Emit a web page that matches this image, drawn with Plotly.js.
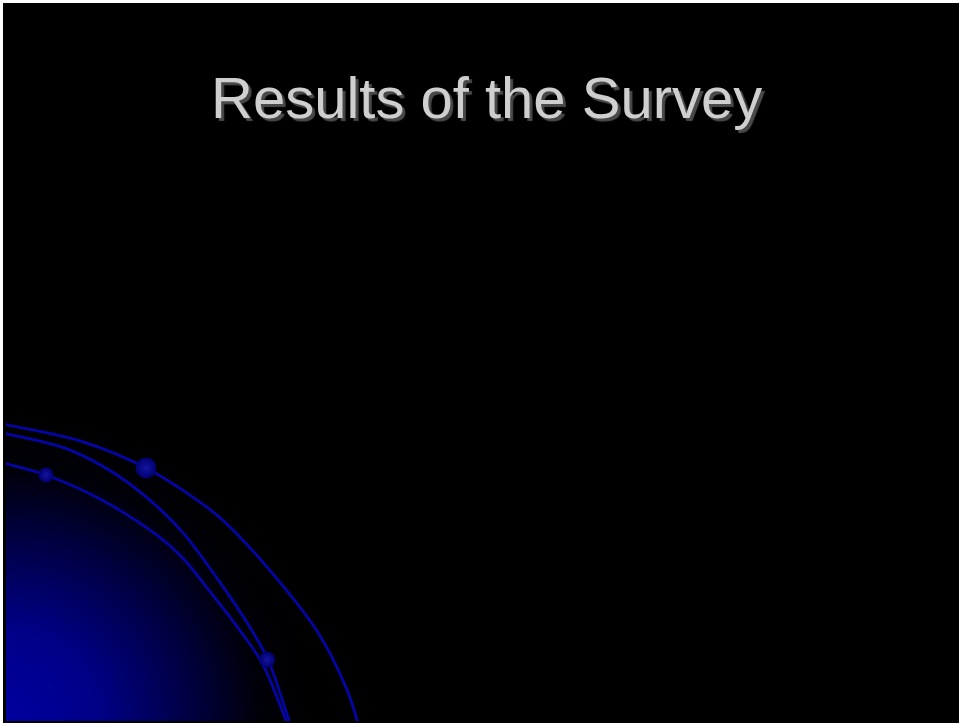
<!DOCTYPE html>
<html>
<head>
<meta charset="utf-8">
<script src="https://cdn.plot.ly/plotly-3.0.1.min.js"></script>
<style>
  html, body { margin: 0; padding: 0; background: #ffffff; width: 959px; height: 723px; overflow: hidden; }
  #chart { position: absolute; left: 3px; top: 3px; width: 958px; height: 722px; }
</style>
</head>
<body>
<div id="chart"></div>
<script>
// Slide content (this slide has a title only, no plotted data)
const titleText = "Results of the Survey";

// Decorative arcs (page pixel coordinates)
const arcAx = [-5, 7, 83, 146, 200, 225, 280, 320, 347, 358, 362];
const arcAy = [420, 423, 440, 466, 500, 520, 580, 633, 687, 720, 735];
const arcBx = [-5, 7, 67, 117, 160, 185, 220, 247, 268, 290, 296];
const arcBy = [429, 432, 447, 473, 507, 533, 580, 620, 657, 720, 735];
const arcCx = [-5, 7, 46, 100, 157, 182, 213, 240, 262, 287, 293];
const arcCy = [459, 462, 473, 497, 533, 555, 593, 628, 660, 720, 735];

// Decorative beads on the arcs
const beadX = [146, 46, 267];
const beadY = [466, 473, 657];
const beadSize = [21, 15, 16];

// Glow circle around bottom-left corner
const glowCx = 6, glowCy = 720, glowR = 310;
const glowX = [], glowY = [];
for (let i = 0; i <= 120; i++) {
  const a = 2 * Math.PI * i / 120;
  glowX.push(glowCx + glowR * Math.cos(a));
  glowY.push(glowCy + glowR * Math.sin(a));
}

const arcStyle = { color: 'rgb(5,5,165)', width: 2.8, shape: 'spline', smoothing: 1 };

const traces = [
  {
    x: glowX, y: glowY, type: 'scatter', mode: 'lines', fill: 'toself',
    line: { width: 0, color: 'rgba(0,0,0,0)' },
    fillgradient: {
      type: 'radial',
      colorscale: [[0, 'rgb(0,0,160)'], [0.3, 'rgb(0,0,135)'], [0.6, 'rgb(0,0,65)'], [0.82, 'rgb(0,0,8)'], [1, 'rgb(0,0,0)']]
    },
    hoverinfo: 'skip'
  },
  { x: arcAx, y: arcAy, type: 'scatter', mode: 'lines', line: arcStyle, hoverinfo: 'skip' },
  { x: arcBx, y: arcBy, type: 'scatter', mode: 'lines', line: arcStyle, hoverinfo: 'skip' },
  { x: arcCx, y: arcCy, type: 'scatter', mode: 'lines', line: arcStyle, hoverinfo: 'skip' },
  {
    x: beadX, y: beadY, type: 'scatter', mode: 'markers',
    marker: {
      size: beadSize, color: 'rgb(0,0,110)', opacity: 1,
      gradient: { type: 'radial', color: 'rgb(20,20,160)' },
      line: { width: 0 }
    },
    hoverinfo: 'skip'
  }
];

const layout = {
  width: 958, height: 722,
  margin: { l: 3, r: 2, t: 0, b: 4, pad: 0 },
  paper_bgcolor: '#000000',
  plot_bgcolor: '#000000',
  showlegend: false,
  hovermode: false,
  xaxis: { range: [6, 959], visible: false, fixedrange: true },
  yaxis: { range: [718, 3], visible: false, fixedrange: true },
  annotations: [{
    text: titleText,
    xref: 'x', yref: 'y', x: 486, y: 97,
    xanchor: 'center', yanchor: 'middle',
    showarrow: false,
    font: {
      family: 'Liberation Sans, Arial, sans-serif',
      size: 58,
      color: '#cfcfcf',
      shadow: '3px 3px 1px #4a4a4a'
    }
  }]
};

Plotly.newPlot('chart', traces, layout, { staticPlot: true, displayModeBar: false });
</script>
</body>
</html>
